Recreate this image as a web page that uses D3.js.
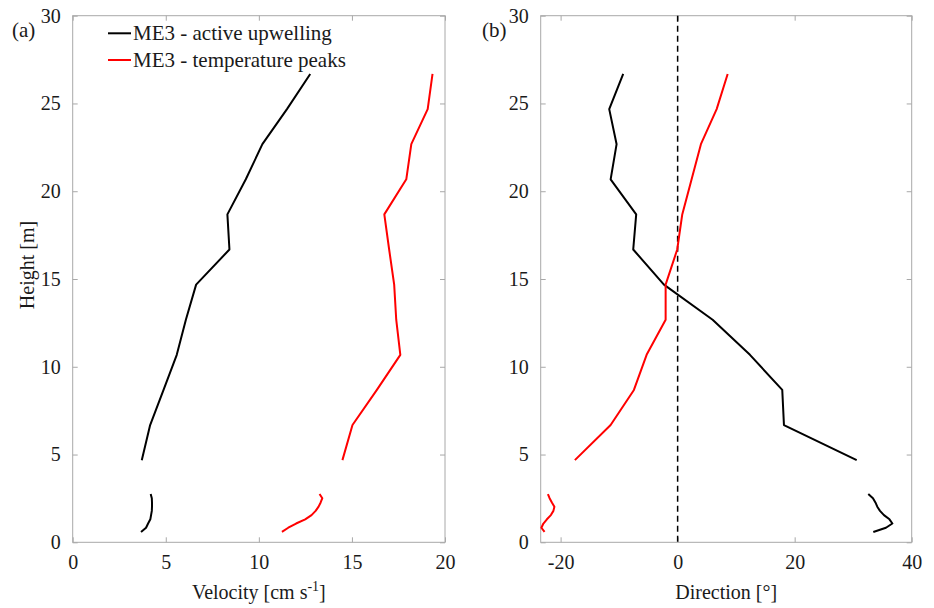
<!DOCTYPE html>
<html><head><meta charset="utf-8">
<script src="https://cdn.jsdelivr.net/npm/d3@7"></script>
<style>body{margin:0;background:#fff}svg{display:block}svg text{font-family:"Liberation Serif","Times New Roman",Times,Tinos,"DejaVu Serif",serif !important;fill:#1a1a1a}</style>
</head><body><svg id="c" width="934" height="608"></svg>
<script>
// Heights of the upper (profiler) and near-bottom (point) segments [m]
const heightsUpper = [4.68, 6.68, 8.68, 10.68, 12.68, 14.68, 16.68, 18.68, 20.68, 22.68, 24.68, 26.68];
const heightsLower = [0.59, 0.83, 1.07, 1.31, 1.55, 1.79, 2.03, 2.27, 2.51, 2.75];

// Velocity [cm/s]
const velActiveUpper = [3.71, 4.16, 4.88, 5.59, 6.08, 6.63, 8.42, 8.31, 9.30, 10.19, 11.51, 12.76];
const velActiveLower = [3.67, 3.94, 4.05, 4.17, 4.21, 4.25, 4.26, 4.26, 4.25, 4.19];
const velPeaksUpper = [14.49, 15.03, 16.34, 17.60, 17.38, 17.27, 17.00, 16.74, 17.92, 18.19, 19.07, 19.33];
const velPeaksLower = [11.24, 11.58, 12.00, 12.49, 12.83, 13.05, 13.21, 13.32, 13.41, 13.26];

// Direction [deg]
const dirActiveUpper = [30.6, 18.17, 17.88, 12.36, 5.98, -2.34, -7.59, -7.08, -11.45, -10.43, -11.69, -9.30];
const dirActiveLower = [33.44, 35.6, 36.7, 36.2, 35.26, 34.58, 34.12, 33.8, 33.38, 32.58];
const dirPeaksUpper = [-17.56, -11.45, -7.47, -5.30, -2.05, -2.05, -0.07, 0.79, 2.39, 3.98, 6.67, 8.55];
const dirPeaksLower = [-22.74, -23.28, -22.94, -22.34, -21.66, -21.23, -21.06, -21.49, -21.88, -22.17];

const seriesNames = ["ME3 - active upwelling", "ME3 - temperature peaks"];
const seriesColors = ["#000000", "#ff0000"];
const velTicks = [0, 5, 10, 15, 20];
const dirTicks = [-20, 0, 20, 40];
const heightTicks = [0, 5, 10, 15, 20, 25, 30];

const svg = d3.select("#c");
const frameColor = "#a8a8a8";
const plotTop = 15.7, plotBottom = 542.3;
const y = d3.scaleLinear().domain([0, 30]).range([plotBottom, plotTop]);
const fmt = d => String(d);

function panel(x, xTicks, xLabelFn, panelLabel, labelX, series) {
  const g = svg.append("g");
  const [x0, x1] = x.range();
  g.append("rect").attr("x", x0).attr("y", plotTop).attr("width", x1 - x0).attr("height", plotBottom - plotTop)
    .attr("fill", "none").attr("stroke", frameColor).attr("stroke-width", 1);
  const style = sel => { sel.attr("font-family", null); sel.select(".domain").remove(); sel.selectAll(".tick line").attr("stroke", frameColor);
    sel.selectAll("text").attr("font-size", 20).attr("fill", "#1a1a1a"); };
  g.append("g").attr("class", "xb").attr("transform", `translate(0,${plotBottom})`)
    .call(d3.axisBottom(x).tickValues(xTicks).tickSizeInner(-5).tickSizeOuter(0).tickPadding(15).tickFormat(fmt)).call(style);
  g.append("g").attr("transform", `translate(0,${plotTop})`)
    .call(d3.axisTop(x).tickValues(xTicks).tickSizeInner(-5).tickSizeOuter(0).tickFormat("")).call(style);
  g.append("g").attr("transform", `translate(${x0},0)`)
    .call(d3.axisLeft(y).tickValues(heightTicks).tickSizeInner(-5).tickSizeOuter(0).tickPadding(12).tickFormat(fmt)).call(style);
  g.append("g").attr("transform", `translate(${x1},0)`)
    .call(d3.axisRight(y).tickValues(heightTicks).tickSizeInner(-5).tickSizeOuter(0).tickFormat("")).call(style);
  g.select(".xb").selectAll(".tick text").attr("dy", "0.6em");
  series.forEach(s => s(g));
  xLabelFn(g, (x0 + x1) / 2);
  g.append("text").attr("x", labelX).attr("y", 37).attr("font-size", 21).text(panelLabel);
  return g;
}

function drawLine(g, x, xs, hs, color) {
  const pts = xs.map((v, i) => [v, hs[i]]);
  g.append("path").datum(pts).attr("fill", "none").attr("stroke", color).attr("stroke-width", 2)
    .attr("stroke-linejoin", "round")
    .attr("d", d3.line().x(d => x(d[0])).y(d => y(d[1])));
}

// Panel (a)
const xV = d3.scaleLinear().domain([0, 20]).range([72.7, 445]);
panel(xV, velTicks, (g, cx) => {
  const t = g.append("text").attr("x", cx).attr("y", 599).attr("text-anchor", "middle").attr("font-size", 20);
  t.append("tspan").text("Velocity [cm s");
  t.append("tspan").attr("dy", -8).attr("font-size", 14).text("-1");
  t.append("tspan").attr("dy", 8).text("]");
}, "(a)", 12, [
  g => drawLine(g, xV, velActiveUpper, heightsUpper, seriesColors[0]),
  g => drawLine(g, xV, velActiveLower, heightsLower, seriesColors[0]),
  g => drawLine(g, xV, velPeaksUpper, heightsUpper, seriesColors[1]),
  g => drawLine(g, xV, velPeaksLower, heightsLower, seriesColors[1])
]);

svg.append("text").attr("transform", `translate(34,265) rotate(-90)`).attr("text-anchor", "middle")
  .attr("font-size", 20).text("Height [m]");

seriesNames.forEach((n, i) => {
  const ly = 33.3 + i * 26.7;
  svg.append("line").attr("x1", 108).attr("x2", 131).attr("y1", ly).attr("y2", ly)
    .attr("stroke", seriesColors[i]).attr("stroke-width", 2);
  svg.append("text").attr("x", 133).attr("y", ly + 7).attr("font-size", 21).text(n);
});

// Panel (b)
const xD = d3.scaleLinear().domain([-23.4, 40]).range([540.7, 911.7]);
panel(xD, dirTicks, (g, cx) => {
  g.append("text").attr("x", cx).attr("y", 599).attr("text-anchor", "middle").attr("font-size", 20).text("Direction [°]");
}, "(b)", 482, [
  g => g.append("line").attr("x1", xD(0)).attr("x2", xD(0)).attr("y1", plotTop).attr("y2", plotBottom)
        .attr("stroke", "#000").attr("stroke-width", 1.5).attr("stroke-dasharray", "6,4"),
  g => drawLine(g, xD, dirActiveUpper, heightsUpper, seriesColors[0]),
  g => drawLine(g, xD, dirActiveLower, heightsLower, seriesColors[0]),
  g => drawLine(g, xD, dirPeaksUpper, heightsUpper, seriesColors[1]),
  g => drawLine(g, xD, dirPeaksLower, heightsLower, seriesColors[1])
]);
</script></body></html>
